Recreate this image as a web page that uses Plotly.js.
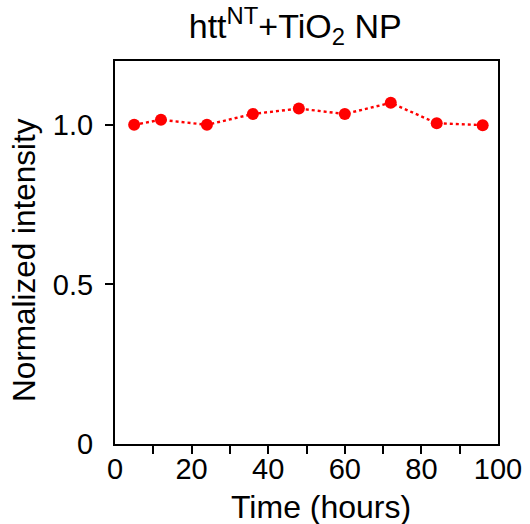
<!DOCTYPE html>
<html>
<head>
<meta charset="utf-8">
<script src="https://cdn.plot.ly/plotly-3.0.1.min.js"></script>
<style>html,body{margin:0;padding:0;background:#fff;}#chart{width:530px;height:524px;}</style>
</head>
<body>
<div id="chart"></div>
<script>
const hours = [5, 12, 24, 36, 48, 60, 72, 84, 96];
const intensity = [1.000, 1.016, 1.000, 1.034, 1.051, 1.034, 1.069, 1.005, 0.999];
const xTickVals = [0, 20, 40, 60, 80, 100];
const xTickText = ['0', '20', '40', '60', '80', '100'];
const xMarkVals = [10, 20, 30, 40, 50, 60, 70, 80, 90];
const yTickVals = [0, 0.5, 1.0];
const yTickText = ['0', '0.5', '1.0'];
const yMarkVals = [0.5, 1.0];
const chartTitle = 'htt<sup>NT</sup>+TiO<sub>2</sub> NP';
const xTitle = 'Time (hours)';
const yTitle = 'Normalized intensity';

const FONT = '"Liberation Sans", Arial, Helvetica, sans-serif';

const trace = {
  x: hours, y: intensity, type: 'scatter', mode: 'lines+markers',
  line: {color: '#ff0000', width: 2.4, dash: 'dot'},
  marker: {color: '#ff0000', size: 12},
  cliponaxis: false
};

const layout = {
  width: 530, height: 524,
  margin: {l: 115, r: 32, t: 61, b: 80, pad: 0},
  paper_bgcolor: '#fff', plot_bgcolor: '#fff',
  font: {family: FONT, size: 29, color: '#000'},
  showlegend: false,
  title: {text: chartTitle, font: {family: FONT, size: 34, color: '#000'},
          x: 0.557, xanchor: 'center', xref: 'container', y: 0.95, yanchor: 'middle', yref: 'container'},
  xaxis: {
    range: [0, 100], showgrid: false, zeroline: false,
    showline: true, linecolor: '#000', linewidth: 2, mirror: true,
    tickmode: 'array', tickvals: xTickVals, ticktext: xTickText,
    ticks: '', ticklabelstandoff: -2,
    tickfont: {family: FONT, size: 29, color: '#000'},
    minor: {tickmode: 'array', tickvals: xMarkVals, ticks: 'outside', ticklen: 8, tickwidth: 2, tickcolor: '#000', showgrid: false}
  },
  yaxis: {
    range: [0, 1.2], showgrid: false, zeroline: false,
    showline: true, linecolor: '#000', linewidth: 2, mirror: true,
    tickmode: 'array', tickvals: yTickVals, ticktext: yTickText,
    ticks: '', ticklabelstandoff: 14,
    tickfont: {family: FONT, size: 29, color: '#000'},
    minor: {tickmode: 'array', tickvals: yMarkVals, ticks: 'outside', ticklen: 8, tickwidth: 2, tickcolor: '#000', showgrid: false}
  },
  annotations: [
    {text: xTitle, xref: 'paper', yref: 'paper', x: 0.538, y: -0.165, xanchor: 'center', yanchor: 'middle',
     showarrow: false, font: {family: FONT, size: 32, color: '#000'}},
    {text: yTitle, xref: 'paper', yref: 'paper', x: -0.238, y: 0.48, xanchor: 'center', yanchor: 'middle',
     textangle: -90, showarrow: false, font: {family: FONT, size: 31.5, color: '#000'}}
  ]
};

Plotly.newPlot('chart', [trace], layout, {displayModeBar: false, staticPlot: true});
</script>
</body>
</html>
